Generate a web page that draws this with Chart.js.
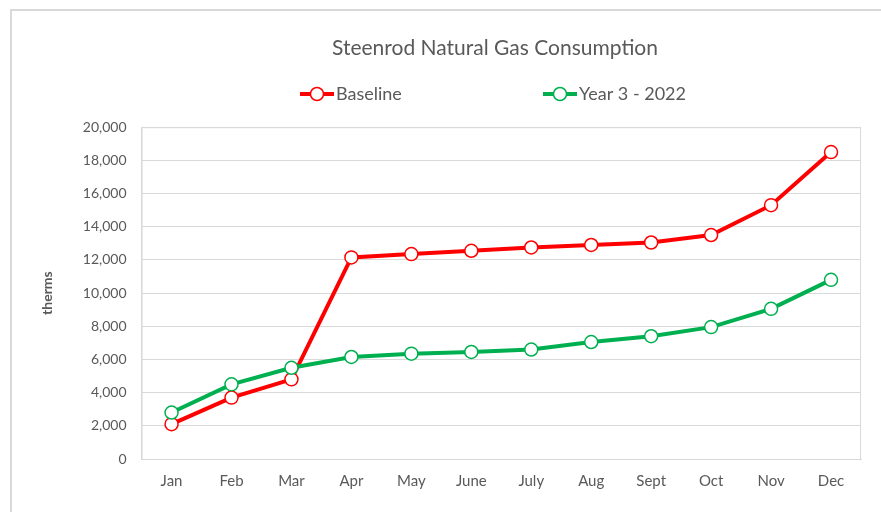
<!DOCTYPE html>
<html lang="en">
  <head>
    <meta charset="UTF-8">
    <title>Steenrod Natural Gas Consumption</title>
    <script src="https://cdn.jsdelivr.net/npm/chart.js"></script>
    <style>
      body { margin: 0; overflow: hidden; background: #fff; }
      #frame { position: absolute; left: 10px; top: 9px; width: 966px; height: 520px; border: 2px solid #d9d9d9; }
    </style>
  </head>
  <body>
    <div id="frame">
      <canvas id="gasChart" width="966" height="501"></canvas>
    </div>
    <script>
      const months = ['Jan', 'Feb', 'Mar', 'Apr', 'May', 'June', 'July', 'Aug', 'Sept', 'Oct', 'Nov', 'Dec'];
      const baseline = [2100, 3700, 4800, 12150, 12350, 12550, 12750, 12900, 13050, 13500, 15300, 18500];
      const year3 = [2800, 4500, 5500, 6150, 6350, 6450, 6600, 7050, 7400, 7950, 9050, 10800];
      const seriesNames = ['Baseline', 'Year 3 - 2022'];
      const seriesColors = ['#ff0000', '#00b050'];

      const textColor = '#595959';
      const gridColor = '#d9d9d9';
      const fontFamily = 'Lato, "Open Sans", sans-serif';

      // plot area border (right side mostly)
      const plotBorder = {
        id: 'plotBorder',
        beforeDatasetsDraw(chart) {
          const { ctx, chartArea: a } = chart;
          ctx.save();
          ctx.strokeStyle = gridColor;
          ctx.lineWidth = 1;
          ctx.strokeRect(a.left + 0.5, a.top + 0.5, a.right - a.left - 1, a.bottom - a.top);
          ctx.restore();
        }
      };

      // excel-like legend: line with circle marker, spread out
      const legendOffsets = [-195, 48];
      const excelLegend = {
        id: 'excelLegend',
        afterDraw(chart) {
          const ctx = chart.ctx;
          const cx = chart.width / 2;
          const y = 83;
          ctx.save();
          chart.data.datasets.forEach((ds, i) => {
            const x = cx + legendOffsets[i];
            ctx.strokeStyle = ds.borderColor;
            ctx.lineWidth = 4;
            ctx.beginPath();
            ctx.moveTo(x, y);
            ctx.lineTo(x + 34, y);
            ctx.stroke();
            ctx.beginPath();
            ctx.arc(x + 17, y, 6.5, 0, Math.PI * 2);
            ctx.fillStyle = '#fff';
            ctx.fill();
            ctx.lineWidth = 1.5;
            ctx.stroke();
            ctx.fillStyle = textColor;
            ctx.font = '18px ' + fontFamily;
            ctx.textBaseline = 'middle';
            ctx.textAlign = 'left';
            ctx.fillText(ds.label, x + 36, y);
          });
          ctx.restore();
        }
      };

      function makeDataset(label, values, color, order) {
        return {
          label: label,
          data: values,
          borderColor: color,
          backgroundColor: '#ffffff',
          borderWidth: 4,
          pointRadius: 6.5,
          pointHoverRadius: 6.5,
          pointBorderWidth: 1.5,
          pointBackgroundColor: '#ffffff',
          pointBorderColor: color,
          tension: 0,
          order: order
        };
      }

      new Chart(document.getElementById('gasChart'), {
        type: 'line',
        data: {
          labels: months,
          datasets: [
            makeDataset(seriesNames[0], baseline, seriesColors[0], 1),
            makeDataset(seriesNames[1], year3, seriesColors[1], 0)
          ]
        },
        options: {
          responsive: false,
          animation: false,
          layout: { padding: { top: 18, left: 20, right: 20, bottom: 9 } },
          plugins: {
            legend: { display: false },
            tooltip: { enabled: false },
            title: {
              display: true,
              text: 'Steenrod Natural Gas Consumption',
              color: textColor,
              font: { family: fontFamily, size: 21, weight: 'normal', lineHeight: 1.2 },
              padding: { top: 7, bottom: 66 }
            }
          },
          scales: {
            x: {
              offset: true,
              grid: { display: false, drawTicks: false },
              border: { color: gridColor },
              ticks: { color: textColor, font: { family: fontFamily, size: 15 }, padding: 13, maxRotation: 0 }
            },
            y: {
              min: 0,
              max: 20000,
              grid: { color: gridColor, drawTicks: false },
              border: { color: gridColor },
              ticks: {
                stepSize: 2000,
                color: textColor,
                font: { family: fontFamily, size: 14 },
                padding: 15,
                callback: v => v.toLocaleString('en-US')
              },
              title: {
                display: true,
                text: 'therms',
                color: textColor,
                font: { family: fontFamily, size: 14, weight: 'bold' },
                padding: { top: 7, bottom: 12 }
              }
            },
            // empty spacer on the right: the chart continues past the crop
            spacer: {
              type: 'linear',
              position: 'right',
              grid: { display: false, drawTicks: false },
              border: { display: false },
              ticks: { display: false },
              afterFit: scale => { scale.width = 97; }
            }
          }
        },
        plugins: [plotBorder, excelLegend]
      });
    </script>
  </body>
</html>
